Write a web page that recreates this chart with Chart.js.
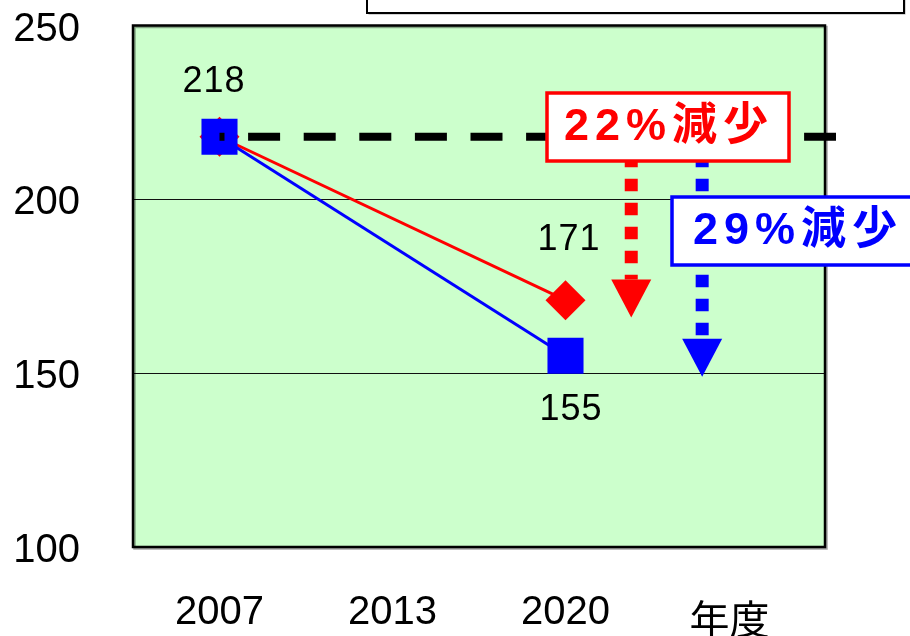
<!DOCTYPE html>
<html>
<head>
<meta charset="utf-8">
<script src="https://cdn.jsdelivr.net/npm/chart.js@4.4.1/dist/chart.umd.min.js"></script>
<style>
  html, body { margin: 0; padding: 0; background: #fff; }
  #wrap { width: 910px; height: 636px; position: relative; }
</style>
</head>
<body>
<div id="wrap"><canvas id="trend"></canvas></div>
<script>
// ── data ─────────────────────────────────────────────
const years      = ['2007', '2013', '2020', ''];
const redValues  = [218, null, 171, null];
const blueValues = [218, null, 155, null];
const yTicks     = [100, 150, 200, 250];
const baseValue  = 218;

// reduction arrows: label, value the arrow points to, category position
const dropLabels  = ['22%減少', '29%減少'];
const dropTargets = [166, 149];
const dropIndex   = [2.38, 2.79];

const RED   = '#ff0000';
const BLUE  = '#0000ff';
const GREEN = '#ccffcc';
const NUM_FONT = "'Liberation Sans', Arial, sans-serif";
const JP_FONT  = "'Liberation Sans', 'Noto Sans CJK JP', sans-serif";

// draw a string with extra spacing between characters, centred on x
function spacedText(ctx, text, cx, cy, gap) {
    const chars  = [...text];
    const widths = chars.map(c => ctx.measureText(c).width);
    const total  = widths.reduce((a, b) => a + b, 0) + gap * (chars.length - 1);
    let x = cx - total / 2;
    ctx.textAlign = 'left';
    ctx.textBaseline = 'middle';
    chars.forEach((c, i) => {
        ctx.fillText(c, x, cy);
        x += widths[i] + gap;
    });
}

function labelBox(ctx, text, x, y, w, h, color) {
    ctx.save();
    ctx.fillStyle = '#fff';
    ctx.fillRect(x, y, w, h);
    ctx.strokeStyle = color;
    ctx.lineWidth = 3.5;
    ctx.strokeRect(x, y, w, h);
    ctx.fillStyle = color;
    ctx.font = 'bold 45px ' + JP_FONT;
    spacedText(ctx, text, x + w / 2 - 2, y + h / 2 + 1, 6);
    ctx.restore();
}

const overlay = {
    id: 'overlay',
    beforeDraw(chart) {
        const { ctx, chartArea: a } = chart;
        ctx.save();
        ctx.fillStyle = GREEN;
        ctx.fillRect(a.left, a.top, a.right - a.left, a.bottom - a.top);
        ctx.restore();
    },
    afterDatasetsDraw(chart) {
        const { ctx, chartArea: a } = chart;
        const xs = chart.scales.x, ys = chart.scales.y;

        // plot frame
        ctx.save();
        ctx.shadowColor = 'rgba(0,0,0,0.35)';
        ctx.shadowOffsetX = 1.5;
        ctx.shadowOffsetY = 1.5;
        ctx.strokeStyle = '#000';
        ctx.lineWidth = 2.5;
        ctx.strokeRect(a.left, a.top, a.right - a.left, a.bottom - a.top);
        ctx.restore();

        // dashed reference line at the base year level
        const yBase = ys.getPixelForValue(baseValue);
        const x0 = xs.getPixelForValue(0);
        ctx.save();
        ctx.strokeStyle = '#000';
        ctx.lineWidth = 8;
        ctx.setLineDash([32, 23.6]);
        ctx.lineDashOffset = 27;
        ctx.beginPath();
        ctx.moveTo(x0, yBase);
        ctx.lineTo(a.right + 11, yBase);
        ctx.stroke();
        ctx.restore();

        // dotted arrows
        const colors = [RED, BLUE];
        dropTargets.forEach((v, i) => {
            const x = xs.getPixelForValue(dropIndex[i]);
            const tip = ys.getPixelForValue(v);
            const head = tip - 38;
            ctx.save();
            ctx.strokeStyle = colors[i];
            ctx.fillStyle = colors[i];
            ctx.lineWidth = 13;
            ctx.setLineDash([12.5, 11.5]);
            ctx.lineDashOffset = 6;
            ctx.beginPath();
            ctx.moveTo(x, yBase);
            ctx.lineTo(x, head);
            ctx.stroke();
            ctx.beginPath();
            ctx.moveTo(x - 20, head);
            ctx.lineTo(x + 20, head);
            ctx.lineTo(x, tip);
            ctx.closePath();
            ctx.fill();
            ctx.restore();
        });

        // reduction labels
        labelBox(ctx, dropLabels[0], 547, 93, 242, 68, RED);
        labelBox(ctx, dropLabels[1], 672, 197, 250, 68, BLUE);

        // value labels
        ctx.save();
        ctx.fillStyle = '#000';
        ctx.font = '36px ' + NUM_FONT;
        const blueMeta = chart.getDatasetMeta(0);
        const redMeta  = chart.getDatasetMeta(1);
        const first = blueMeta.data[0];
        spacedText(ctx, String(blueValues[0]), first.x - 6, first.y - 55, 1);
        const r2 = redMeta.data[2];
        spacedText(ctx, String(redValues[2]), r2.x + 3, r2.y - 60, 1);
        const b2 = blueMeta.data[2];
        spacedText(ctx, String(blueValues[2]), b2.x + 5, b2.y + 54, 1);

        // axis unit under the last slot
        ctx.font = "40px 'Noto Sans CJK JP', sans-serif";
        ctx.textAlign = 'center';
        ctx.textBaseline = 'middle';
        ctx.fillText('年度', xs.getPixelForValue(3) - 9, a.bottom + 72);
        ctx.restore();

        // legend box peeking in at the top
        ctx.save();
        ctx.shadowColor = 'rgba(0,0,0,0.35)';
        ctx.shadowOffsetX = 1.5;
        ctx.shadowOffsetY = 1.5;
        ctx.fillStyle = '#fff';
        ctx.fillRect(367, -10, 537, 23);
        ctx.shadowColor = 'transparent';
        ctx.strokeStyle = '#000';
        ctx.lineWidth = 2;
        ctx.strokeRect(367, -10, 537, 23);
        ctx.restore();
    }
};

new Chart(document.getElementById('trend'), {
    type: 'line',
    data: {
        labels: years,
        datasets: [
            {
                label: 'blue',
                data: blueValues,
                borderColor: BLUE,
                backgroundColor: BLUE,
                borderWidth: 3,
                pointStyle: 'rect',
                pointRadius: 25.5,
                pointBorderWidth: 0,
                spanGaps: true,
                tension: 0
            },
            {
                label: 'red',
                data: redValues,
                borderColor: RED,
                backgroundColor: RED,
                borderWidth: 3,
                pointStyle: 'rectRot',
                pointRadius: 20,
                pointBorderWidth: 0,
                spanGaps: true,
                tension: 0
            }
        ]
    },
    options: {
        responsive: true,
        maintainAspectRatio: false,
        animation: false,
        layout: { padding: { top: 21, right: 85, left: 0, bottom: 0 } },
        plugins: {
            legend: { display: false },
            tooltip: { enabled: false }
        },
        scales: {
            x: {
                offset: true,
                afterFit: s => { s.height = 89; s.paddingLeft = 0; s.paddingRight = 0; },
                border: { display: false },
                grid: { display: false, drawTicks: false },
                ticks: {
                    color: '#000',
                    padding: 42,
                    maxRotation: 0,
                    font: { family: NUM_FONT, size: 40 }
                }
            },
            y: {
                min: yTicks[0],
                max: yTicks[yTicks.length - 1],
                afterFit: s => { s.width = 133; s.paddingTop = 0; s.paddingBottom = 0; },
                afterBuildTicks: s => { s.ticks = yTicks.map(v => ({ value: v })); },
                border: { display: false },
                grid: {
                    drawTicks: false,
                    lineWidth: 1,
                    color: c => (c.tick && (c.tick.value === 150 || c.tick.value === 200)) ? '#111' : 'transparent'
                },
                ticks: {
                    color: '#000',
                    padding: 53,
                    labelOffset: 4,
                    font: { family: NUM_FONT, size: 40 }
                }
            }
        }
    },
    plugins: [overlay]
});
</script>
</body>
</html>
